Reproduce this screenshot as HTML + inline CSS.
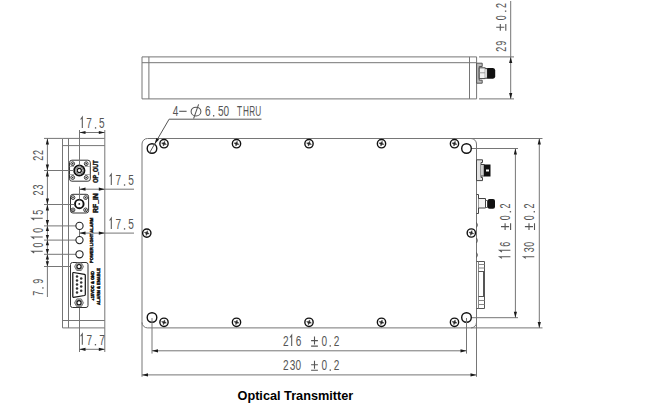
<!DOCTYPE html>
<html><head><meta charset="utf-8"><style>
html,body{margin:0;padding:0;background:#fff;}
body{width:645px;height:419px;overflow:hidden;font-family:"Liberation Sans", sans-serif;}
svg{display:block;}
</style></head><body>
<svg width="645" height="419" viewBox="0 0 645 419">
<rect width="645" height="419" fill="#fff"/>
<path d="M142.0,56.9 H476.6 V98.9 H142.0 Z" stroke="#767676" stroke-width="1" fill="none"/>
<line x1="142.0" y1="62.7" x2="476.6" y2="62.7" stroke="#767676" stroke-width="1"/>
<line x1="148.9" y1="56.9" x2="148.9" y2="98.9" stroke="#767676" stroke-width="1"/>
<line x1="469.5" y1="56.9" x2="469.5" y2="98.9" stroke="#767676" stroke-width="1"/>
<path d="M476.6,63.2 H482.2 V66.5 H479.2 V80.2 H482.2 V83.2 H476.6 Z" stroke="#555" stroke-width="1" fill="#bbb"/>
<path d="M479.2,67.8 H485.3 V78.6 H479.2 Z" stroke="#444" stroke-width="1" fill="#f2f2f2"/>
<line x1="479.6" y1="72.8" x2="485" y2="72.8" stroke="#999" stroke-width="1"/>
<path d="M485.3,68.6 H487.3 V78.2 H485.3" stroke="#333" stroke-width="1" fill="#fff"/>
<path d="M487.2,68.0 H493 Q495.2,68.3 495.2,70.5 V76.5 Q495.2,78.6 493,78.8 H487.2 Z" fill="#111"/>
<line x1="479" y1="56.9" x2="514" y2="56.9" stroke="#767676" stroke-width="1"/>
<line x1="479" y1="98.9" x2="514" y2="98.9" stroke="#767676" stroke-width="1"/>
<line x1="510.7" y1="1" x2="510.7" y2="98.9" stroke="#767676" stroke-width="1"/>
<path d="M510.7,56.9 L512.30,62.90 L509.10,62.90 Z" fill="#1a1a1a"/>
<path d="M510.7,98.9 L509.10,92.90 L512.30,92.90 Z" fill="#1a1a1a"/>
<path d="M147.5,138.5 H542.5" stroke="#767676" stroke-width="1" fill="none"/>
<path d="M147.5,327.9 H542.5" stroke="#767676" stroke-width="1" fill="none"/>
<path d="M142.0,144.0 V376.8" stroke="#767676" stroke-width="1" fill="none"/>
<path d="M476.5,144.0 V376.8" stroke="#767676" stroke-width="1" fill="none"/>
<path d="M142.0,144.0 A5.5,5.5 0 0 1 147.5,138.5" stroke="#767676" stroke-width="1" fill="none"/>
<path d="M142.0,322.4 A5.5,5.5 0 0 0 147.5,327.9" stroke="#767676" stroke-width="1" fill="none"/>
<path d="M471.0,138.5 A5.5,5.5 0 0 1 476.5,144.0" stroke="#767676" stroke-width="1" fill="none"/>
<path d="M476.5,322.4 A5.5,5.5 0 0 1 471.0,327.9" stroke="#767676" stroke-width="1" fill="none"/>
<circle cx="152" cy="148.5" r="4.8" stroke="#111" stroke-width="1.4" fill="none"/>
<circle cx="466.5" cy="148.5" r="4.8" stroke="#111" stroke-width="1.4" fill="none"/>
<circle cx="152" cy="317.5" r="4.8" stroke="#111" stroke-width="1.4" fill="none"/>
<circle cx="466.5" cy="317.5" r="4.8" stroke="#111" stroke-width="1.4" fill="none"/>
<circle cx="164" cy="143.7" r="4.15" stroke="#111" stroke-width="1.4" fill="none"/>
<polygon points="166.41,144.35 164.50,144.57 163.35,146.11 163.13,144.20 161.59,143.05 163.50,142.83 164.65,141.29 164.87,143.20" fill="#222" stroke="#333" stroke-width="0.5"/>
<circle cx="164" cy="322.3" r="4.15" stroke="#111" stroke-width="1.4" fill="none"/>
<polygon points="166.41,322.95 164.50,323.17 163.35,324.71 163.13,322.80 161.59,321.65 163.50,321.43 164.65,319.89 164.87,321.80" fill="#222" stroke="#333" stroke-width="0.5"/>
<circle cx="236.5" cy="143.7" r="4.15" stroke="#111" stroke-width="1.4" fill="none"/>
<polygon points="238.91,144.35 237.00,144.57 235.85,146.11 235.63,144.20 234.09,143.05 236.00,142.83 237.15,141.29 237.37,143.20" fill="#222" stroke="#333" stroke-width="0.5"/>
<circle cx="236.5" cy="322.3" r="4.15" stroke="#111" stroke-width="1.4" fill="none"/>
<polygon points="238.91,322.95 237.00,323.17 235.85,324.71 235.63,322.80 234.09,321.65 236.00,321.43 237.15,319.89 237.37,321.80" fill="#222" stroke="#333" stroke-width="0.5"/>
<circle cx="309" cy="143.7" r="4.15" stroke="#111" stroke-width="1.4" fill="none"/>
<polygon points="311.41,144.35 309.50,144.57 308.35,146.11 308.13,144.20 306.59,143.05 308.50,142.83 309.65,141.29 309.87,143.20" fill="#222" stroke="#333" stroke-width="0.5"/>
<circle cx="309" cy="322.3" r="4.15" stroke="#111" stroke-width="1.4" fill="none"/>
<polygon points="311.41,322.95 309.50,323.17 308.35,324.71 308.13,322.80 306.59,321.65 308.50,321.43 309.65,319.89 309.87,321.80" fill="#222" stroke="#333" stroke-width="0.5"/>
<circle cx="381.5" cy="143.7" r="4.15" stroke="#111" stroke-width="1.4" fill="none"/>
<polygon points="383.91,144.35 382.00,144.57 380.85,146.11 380.63,144.20 379.09,143.05 381.00,142.83 382.15,141.29 382.37,143.20" fill="#222" stroke="#333" stroke-width="0.5"/>
<circle cx="381.5" cy="322.3" r="4.15" stroke="#111" stroke-width="1.4" fill="none"/>
<polygon points="383.91,322.95 382.00,323.17 380.85,324.71 380.63,322.80 379.09,321.65 381.00,321.43 382.15,319.89 382.37,321.80" fill="#222" stroke="#333" stroke-width="0.5"/>
<circle cx="454.5" cy="143.7" r="4.15" stroke="#111" stroke-width="1.4" fill="none"/>
<polygon points="456.91,144.35 455.00,144.57 453.85,146.11 453.63,144.20 452.09,143.05 454.00,142.83 455.15,141.29 455.37,143.20" fill="#222" stroke="#333" stroke-width="0.5"/>
<circle cx="454.5" cy="322.3" r="4.15" stroke="#111" stroke-width="1.4" fill="none"/>
<polygon points="456.91,322.95 455.00,323.17 453.85,324.71 453.63,322.80 452.09,321.65 454.00,321.43 455.15,319.89 455.37,321.80" fill="#222" stroke="#333" stroke-width="0.5"/>
<circle cx="146.8" cy="233.1" r="4.15" stroke="#111" stroke-width="1.4" fill="none"/>
<polygon points="149.21,233.75 147.30,233.97 146.15,235.51 145.93,233.60 144.39,232.45 146.30,232.23 147.45,230.69 147.67,232.60" fill="#222" stroke="#333" stroke-width="0.5"/>
<circle cx="471.3" cy="233.0" r="4.15" stroke="#111" stroke-width="1.4" fill="none"/>
<polygon points="473.71,233.65 471.80,233.87 470.65,235.41 470.43,233.50 468.89,232.35 470.80,232.13 471.95,230.59 472.17,232.50" fill="#222" stroke="#333" stroke-width="0.5"/>
<path d="M149.6,152.7 L169.1,119.2 H261.5" stroke="#555" stroke-width="1" fill="none"/>
<path d="M154.7,144.0 L156.31,138.00 L159.09,139.60 Z" fill="#1a1a1a"/>
<path d="M476.5,159.8 H482.5 V162.5 H481 V177.5 H482.5 V180.6 H476.5 Z" stroke="#444" stroke-width="1" fill="#e4e4e4"/>
<path d="M481,164.5 H484.2 V176 H481" stroke="#444" stroke-width="1" fill="#ccc"/>
<rect x="484" y="164.5" width="6.5" height="12" fill="#111"/>
<rect x="486" y="169.5" width="3" height="2" fill="#fff"/>
<path d="M476.5,194.5 H478.5 V213.5 H476.5" stroke="#444" stroke-width="1" fill="none"/>
<path d="M478.5,198.5 H485.5 V208 H478.5" stroke="#444" stroke-width="1" fill="#f4f4f4"/>
<path d="M485.5,200.5 H487.5 V207.5 H485.5" stroke="#666" stroke-width="1" fill="none"/>
<rect x="487.5" y="199" width="7.5" height="9.8" rx="2" fill="#111"/>
<path d="M476.5,222.5 Q478.3,225 476.5,227.5" stroke="#555" stroke-width="1" fill="none"/>
<path d="M476.5,238.0 Q478.3,240.5 476.5,243.0" stroke="#555" stroke-width="1" fill="none"/>
<path d="M476.5,252.5 Q478.3,255 476.5,257.5" stroke="#555" stroke-width="1" fill="none"/>
<path d="M476.5,261.5 H484.5 V308.5 H476.5" stroke="#555" stroke-width="1" fill="none"/>
<path d="M478.5,261.5 V308.5" stroke="#888" stroke-width="1" fill="none"/>
<line x1="478.5" y1="264.5" x2="484.5" y2="264.5" stroke="#888" stroke-width="1"/>
<line x1="478.5" y1="268" x2="484.5" y2="268" stroke="#888" stroke-width="1"/>
<line x1="478.5" y1="271.5" x2="484.5" y2="271.5" stroke="#555" stroke-width="1"/>
<line x1="478.5" y1="296.5" x2="484.5" y2="296.5" stroke="#555" stroke-width="1"/>
<line x1="478.5" y1="300.5" x2="484.5" y2="300.5" stroke="#888" stroke-width="1"/>
<line x1="478.5" y1="304.5" x2="484.5" y2="304.5" stroke="#888" stroke-width="1"/>
<path d="M483.5,271.5 V296.5" stroke="#555" stroke-width="1" fill="none"/>
<line x1="472" y1="148.5" x2="518" y2="148.5" stroke="#767676" stroke-width="1"/>
<line x1="472" y1="317.7" x2="518" y2="317.7" stroke="#767676" stroke-width="1"/>
<line x1="515.4" y1="148.5" x2="515.4" y2="317.7" stroke="#767676" stroke-width="1"/>
<path d="M515.4,148.5 L517.00,154.50 L513.80,154.50 Z" fill="#1a1a1a"/>
<path d="M515.4,317.7 L513.80,311.70 L517.00,311.70 Z" fill="#1a1a1a"/>
<line x1="539.3" y1="138.5" x2="539.3" y2="327.9" stroke="#767676" stroke-width="1"/>
<path d="M539.3,138.5 L540.90,144.50 L537.70,144.50 Z" fill="#1a1a1a"/>
<path d="M539.3,327.9 L537.70,321.90 L540.90,321.90 Z" fill="#1a1a1a"/>
<line x1="152" y1="318" x2="152" y2="353.6" stroke="#767676" stroke-width="1"/>
<line x1="466.5" y1="318" x2="466.5" y2="353.6" stroke="#767676" stroke-width="1"/>
<line x1="152" y1="350.8" x2="466.5" y2="350.8" stroke="#767676" stroke-width="1"/>
<path d="M152,350.8 L158.00,349.20 L158.00,352.40 Z" fill="#1a1a1a"/>
<path d="M466.5,350.8 L460.50,352.40 L460.50,349.20 Z" fill="#1a1a1a"/>
<line x1="142.0" y1="374.9" x2="476.5" y2="374.9" stroke="#767676" stroke-width="1"/>
<path d="M142.0,374.9 L148.00,373.30 L148.00,376.50 Z" fill="#1a1a1a"/>
<path d="M476.5,374.9 L470.50,376.50 L470.50,373.30 Z" fill="#1a1a1a"/>
<path d="M62.5,138.4 H104.8 V327.9 H62.5 Z" stroke="#767676" stroke-width="1" fill="none"/>
<line x1="68.5" y1="138.4" x2="68.5" y2="327.9" stroke="#767676" stroke-width="1"/>
<line x1="62.5" y1="145.6" x2="104.8" y2="145.6" stroke="#767676" stroke-width="1"/>
<line x1="62.5" y1="320.5" x2="104.8" y2="320.5" stroke="#767676" stroke-width="1"/>
<line x1="44" y1="138.4" x2="62.5" y2="138.4" stroke="#767676" stroke-width="1"/>
<line x1="47.4" y1="138.4" x2="47.4" y2="297" stroke="#767676" stroke-width="1"/>
<line x1="44" y1="170.5" x2="74" y2="170.5" stroke="#767676" stroke-width="1"/>
<line x1="44" y1="204.5" x2="74.5" y2="204.5" stroke="#767676" stroke-width="1"/>
<line x1="44" y1="225.9" x2="76" y2="225.9" stroke="#767676" stroke-width="1"/>
<line x1="44" y1="240.1" x2="76" y2="240.1" stroke="#767676" stroke-width="1"/>
<line x1="44" y1="254.3" x2="76" y2="254.3" stroke="#767676" stroke-width="1"/>
<line x1="44" y1="266.5" x2="74.5" y2="266.5" stroke="#767676" stroke-width="1"/>
<path d="M47.4,138.4 L49.00,144.40 L45.80,144.40 Z" fill="#1a1a1a"/>
<path d="M47.4,170.5 L45.80,164.50 L49.00,164.50 Z" fill="#1a1a1a"/>
<path d="M47.4,170.5 L49.00,176.50 L45.80,176.50 Z" fill="#1a1a1a"/>
<path d="M47.4,204.5 L45.80,198.50 L49.00,198.50 Z" fill="#1a1a1a"/>
<path d="M47.4,204.5 L49.00,210.50 L45.80,210.50 Z" fill="#1a1a1a"/>
<path d="M47.4,225.9 L45.80,219.90 L49.00,219.90 Z" fill="#1a1a1a"/>
<path d="M47.4,225.9 L49.00,231.10 L45.80,231.10 Z" fill="#1a1a1a"/>
<path d="M47.4,240.1 L45.80,234.90 L49.00,234.90 Z" fill="#1a1a1a"/>
<path d="M47.4,240.1 L49.00,245.30 L45.80,245.30 Z" fill="#1a1a1a"/>
<path d="M47.4,254.3 L45.80,249.10 L49.00,249.10 Z" fill="#1a1a1a"/>
<path d="M47.4,254.3 L49.00,259.50 L45.80,259.50 Z" fill="#1a1a1a"/>
<path d="M47.4,266.5 L45.80,261.30 L49.00,261.30 Z" fill="#1a1a1a"/>
<rect x="69.5" y="160.2" width="20.799999999999997" height="21.0" rx="2.4" stroke="#333" stroke-width="1" fill="#fff"/>
<circle cx="72.7" cy="163.7" r="1.9" stroke="#222" stroke-width="0.9" fill="none"/>
<circle cx="72.7" cy="163.7" r="0.85" fill="#333"/>
<circle cx="72.7" cy="177.5" r="1.9" stroke="#222" stroke-width="0.9" fill="none"/>
<circle cx="72.7" cy="177.5" r="0.85" fill="#333"/>
<circle cx="86.2" cy="163.7" r="1.9" stroke="#222" stroke-width="0.9" fill="none"/>
<circle cx="86.2" cy="163.7" r="0.85" fill="#333"/>
<circle cx="86.2" cy="177.5" r="1.9" stroke="#222" stroke-width="0.9" fill="none"/>
<circle cx="86.2" cy="177.5" r="0.85" fill="#333"/>
<line x1="69.5" y1="166.5" x2="74" y2="166.5" stroke="#999" stroke-width="0.8"/>
<line x1="84.5" y1="166.5" x2="90.3" y2="166.5" stroke="#999" stroke-width="0.8"/>
<line x1="69.5" y1="174.5" x2="74" y2="174.5" stroke="#999" stroke-width="0.8"/>
<line x1="84.5" y1="174.5" x2="90.3" y2="174.5" stroke="#999" stroke-width="0.8"/>
<circle cx="79.3" cy="170.5" r="5.2" stroke="#111" stroke-width="1.8" fill="none"/>
<circle cx="79.3" cy="170.5" r="3.7" stroke="#777" stroke-width="1.0" fill="none"/>
<circle cx="79.3" cy="170.5" r="2.1" stroke="#111" stroke-width="1.2" fill="none"/>
<rect x="70.5" y="194.3" width="18.099999999999994" height="18.69999999999999" rx="2.4" stroke="#333" stroke-width="1" fill="#fff"/>
<circle cx="73.0" cy="197.6" r="1.9" stroke="#222" stroke-width="0.9" fill="none"/>
<circle cx="73.0" cy="197.6" r="0.85" fill="#333"/>
<circle cx="73.0" cy="209.9" r="1.9" stroke="#222" stroke-width="0.9" fill="none"/>
<circle cx="73.0" cy="209.9" r="0.85" fill="#333"/>
<circle cx="85.6" cy="197.6" r="1.9" stroke="#222" stroke-width="0.9" fill="none"/>
<circle cx="85.6" cy="197.6" r="0.85" fill="#333"/>
<circle cx="85.6" cy="209.9" r="1.9" stroke="#222" stroke-width="0.9" fill="none"/>
<circle cx="85.6" cy="209.9" r="0.85" fill="#333"/>
<circle cx="79.3" cy="203.9" r="4.3" stroke="#111" stroke-width="1.9" fill="none"/>
<circle cx="79.3" cy="203.9" r="0.9" fill="#222"/>
<line x1="69.5" y1="170.5" x2="74" y2="170.5" stroke="#767676" stroke-width="1"/>
<line x1="70.5" y1="204.5" x2="74.5" y2="204.5" stroke="#767676" stroke-width="1"/>
<line x1="79.5" y1="130" x2="79.5" y2="165.5" stroke="#767676" stroke-width="1"/>
<line x1="79.5" y1="186.5" x2="79.5" y2="199.5" stroke="#767676" stroke-width="1"/>
<line x1="79.5" y1="229" x2="79.5" y2="237" stroke="#767676" stroke-width="1"/>
<line x1="79.5" y1="305" x2="79.5" y2="352" stroke="#767676" stroke-width="1"/>
<circle cx="79.5" cy="225.9" r="3.6" stroke="#222" stroke-width="1.1" fill="none"/>
<circle cx="79.5" cy="240.1" r="3.6" stroke="#222" stroke-width="1.1" fill="none"/>
<circle cx="79.5" cy="254.3" r="3.6" stroke="#222" stroke-width="1.1" fill="none"/>
<rect x="70.5" y="262.5" width="17.5" height="45" rx="2" stroke="#333" stroke-width="1" fill="#fff"/>
<polygon points="83.50,266.60 81.25,270.50 76.75,270.50 74.50,266.60 76.75,262.70 81.25,262.70" stroke="#555" stroke-width="0.8" fill="#fff"/>
<circle cx="79" cy="266.6" r="3.3" stroke="#666" stroke-width="0.7" fill="none"/>
<circle cx="79" cy="266.6" r="2.1" stroke="#111" stroke-width="1.2" fill="none"/>
<polygon points="83.50,302.80 81.25,306.70 76.75,306.70 74.50,302.80 76.75,298.90 81.25,298.90" stroke="#555" stroke-width="0.8" fill="#fff"/>
<circle cx="79" cy="302.8" r="3.3" stroke="#666" stroke-width="0.7" fill="none"/>
<circle cx="79" cy="302.8" r="2.1" stroke="#111" stroke-width="1.2" fill="none"/>
<path d="M73.5,272.5 L84.5,274.3 Q85.3,274.5 85.3,275.3 V294.5 Q85.3,295.3 84.5,295.5 L73.5,297.3 Q72.8,297.4 72.8,296.6 V273.2 Q72.8,272.4 73.5,272.5 Z" stroke="#111" stroke-width="1.2" fill="#fff"/>
<circle cx="77" cy="276.6" r="1.25" fill="#333"/>
<circle cx="77" cy="280.6" r="1.25" fill="#333"/>
<circle cx="77" cy="284.6" r="1.25" fill="#333"/>
<circle cx="77" cy="288.6" r="1.25" fill="#333"/>
<circle cx="77" cy="292.6" r="1.25" fill="#333"/>
<circle cx="81.2" cy="278.5" r="1.25" fill="#333"/>
<circle cx="81.2" cy="282.5" r="1.25" fill="#333"/>
<circle cx="81.2" cy="286.6" r="1.25" fill="#333"/>
<circle cx="81.2" cy="290.7" r="1.25" fill="#333"/>
<line x1="79.5" y1="132.5" x2="104.8" y2="132.5" stroke="#767676" stroke-width="1"/>
<line x1="104.8" y1="130" x2="104.8" y2="138.4" stroke="#767676" stroke-width="1"/>
<path d="M79.5,132.5 L85.50,130.90 L85.50,134.10 Z" fill="#1a1a1a"/>
<path d="M104.8,132.5 L98.80,134.10 L98.80,130.90 Z" fill="#1a1a1a"/>
<line x1="79.5" y1="189.2" x2="134" y2="189.2" stroke="#767676" stroke-width="1"/>
<path d="M79.5,189.2 L85.50,187.60 L85.50,190.80 Z" fill="#1a1a1a"/>
<path d="M104.8,189.2 L98.80,190.80 L98.80,187.60 Z" fill="#1a1a1a"/>
<line x1="79.5" y1="233.1" x2="134" y2="233.1" stroke="#767676" stroke-width="1"/>
<path d="M79.5,233.1 L85.50,231.50 L85.50,234.70 Z" fill="#1a1a1a"/>
<path d="M104.8,233.1 L98.80,234.70 L98.80,231.50 Z" fill="#1a1a1a"/>
<line x1="104.8" y1="327.9" x2="104.8" y2="352" stroke="#767676" stroke-width="1"/>
<line x1="79.5" y1="349.3" x2="104.8" y2="349.3" stroke="#767676" stroke-width="1"/>
<path d="M79.5,349.3 L85.50,347.70 L85.50,350.90 Z" fill="#1a1a1a"/>
<path d="M104.8,349.3 L98.80,350.90 L98.80,347.70 Z" fill="#1a1a1a"/>
<text transform="scale(0.65,1)" x="435.37" y="345.90" font-family='"Liberation Sans", sans-serif' font-size="15.5" font-weight="normal" fill="#555">2</text>
<path d="M291.70,345.90 V335.05 L290.00,337.45" stroke="#555" stroke-width="1.05" fill="none"/>
<text transform="scale(0.65,1)" x="455.06" y="345.90" font-family='"Liberation Sans", sans-serif' font-size="15.5" font-weight="normal" fill="#555">6</text>
<path d="M311.10,340.60 H317.90 M314.50,336.50 V344.60 M311.10,346.10 H317.90" stroke="#555" stroke-width="1.1" fill="none"/>
<text transform="scale(0.65,1)" x="494.78" y="345.90" font-family='"Liberation Sans", sans-serif' font-size="15.5" font-weight="normal" fill="#555">0</text>
<rect x="329.60" y="345.20" width="1.3" height="1.4" fill="#555"/>
<text transform="scale(0.65,1)" x="513.37" y="345.90" font-family='"Liberation Sans", sans-serif' font-size="15.5" font-weight="normal" fill="#555">2</text>
<text transform="scale(0.65,1)" x="435.37" y="370.10" font-family='"Liberation Sans", sans-serif' font-size="15.5" font-weight="normal" fill="#555">2</text>
<text transform="scale(0.65,1)" x="445.87" y="370.10" font-family='"Liberation Sans", sans-serif' font-size="15.5" font-weight="normal" fill="#555">3</text>
<text transform="scale(0.65,1)" x="454.47" y="370.10" font-family='"Liberation Sans", sans-serif' font-size="15.5" font-weight="normal" fill="#555">0</text>
<path d="M311.10,364.80 H317.90 M314.50,360.70 V368.80 M311.10,370.30 H317.90" stroke="#555" stroke-width="1.1" fill="none"/>
<text transform="scale(0.65,1)" x="494.78" y="370.10" font-family='"Liberation Sans", sans-serif' font-size="15.5" font-weight="normal" fill="#555">0</text>
<rect x="329.60" y="369.40" width="1.3" height="1.4" fill="#555"/>
<text transform="scale(0.65,1)" x="513.37" y="370.10" font-family='"Liberation Sans", sans-serif' font-size="15.5" font-weight="normal" fill="#555">2</text>
<path d="M82.30,127.90 V117.05 L80.60,119.45" stroke="#555" stroke-width="1.05" fill="none"/>
<text transform="scale(0.65,1)" x="132.74" y="127.90" font-family='"Liberation Sans", sans-serif' font-size="15.5" font-weight="normal" fill="#555">7</text>
<rect x="94.90" y="127.20" width="1.3" height="1.4" fill="#555"/>
<text transform="scale(0.65,1)" x="152.46" y="127.90" font-family='"Liberation Sans", sans-serif' font-size="15.5" font-weight="normal" fill="#555">5</text>
<path d="M111.30,185.00 V174.15 L109.60,176.55" stroke="#555" stroke-width="1.05" fill="none"/>
<text transform="scale(0.65,1)" x="177.67" y="185.00" font-family='"Liberation Sans", sans-serif' font-size="15.5" font-weight="normal" fill="#555">7</text>
<rect x="123.90" y="184.30" width="1.3" height="1.4" fill="#555"/>
<text transform="scale(0.65,1)" x="197.23" y="185.00" font-family='"Liberation Sans", sans-serif' font-size="15.5" font-weight="normal" fill="#555">5</text>
<path d="M111.30,228.90 V218.05 L109.60,220.45" stroke="#555" stroke-width="1.05" fill="none"/>
<text transform="scale(0.65,1)" x="177.67" y="228.90" font-family='"Liberation Sans", sans-serif' font-size="15.5" font-weight="normal" fill="#555">7</text>
<rect x="123.90" y="228.20" width="1.3" height="1.4" fill="#555"/>
<text transform="scale(0.65,1)" x="197.23" y="228.90" font-family='"Liberation Sans", sans-serif' font-size="15.5" font-weight="normal" fill="#555">5</text>
<path d="M82.30,344.70 V333.85 L80.60,336.25" stroke="#555" stroke-width="1.05" fill="none"/>
<text transform="scale(0.65,1)" x="133.05" y="344.70" font-family='"Liberation Sans", sans-serif' font-size="15.5" font-weight="normal" fill="#555">7</text>
<rect x="94.80" y="344.00" width="1.3" height="1.4" fill="#555"/>
<text transform="scale(0.65,1)" x="152.59" y="344.70" font-family='"Liberation Sans", sans-serif' font-size="15.5" font-weight="normal" fill="#555">7</text>
<text transform="scale(0.65,1)" x="265.80" y="115.80" font-family='"Liberation Sans", sans-serif' font-size="15.5" font-weight="normal" fill="#555">4</text>
<line x1="179.2" y1="111.3" x2="186.6" y2="111.3" stroke="#555" stroke-width="1.1"/>
<ellipse cx="196.0" cy="111.6" rx="4.9" ry="4.4" stroke="#555" stroke-width="1.05" fill="none"/>
<line x1="198.6" y1="104.3" x2="193.6" y2="118.6" stroke="#555" stroke-width="1.05"/>
<text transform="scale(0.65,1)" x="315.52" y="115.80" font-family='"Liberation Sans", sans-serif' font-size="15.5" font-weight="normal" fill="#555">6</text>
<rect x="213.00" y="115.10" width="1.3" height="1.4" fill="#555"/>
<text transform="scale(0.65,1)" x="335.38" y="115.80" font-family='"Liberation Sans", sans-serif' font-size="15.5" font-weight="normal" fill="#555">5</text>
<text transform="scale(0.65,1)" x="344.01" y="115.80" font-family='"Liberation Sans", sans-serif' font-size="15.5" font-weight="normal" fill="#555">0</text>
<text transform="scale(0.53,1)" x="447.20" y="115.80" font-family='"Liberation Sans", sans-serif' font-size="15.5" font-weight="normal" fill="#555">T</text>
<text transform="scale(0.53,1)" x="458.73" y="115.80" font-family='"Liberation Sans", sans-serif' font-size="15.5" font-weight="normal" fill="#555">H</text>
<text transform="scale(0.53,1)" x="470.24" y="115.80" font-family='"Liberation Sans", sans-serif' font-size="15.5" font-weight="normal" fill="#555">R</text>
<text transform="scale(0.53,1)" x="481.82" y="115.80" font-family='"Liberation Sans", sans-serif' font-size="15.5" font-weight="normal" fill="#555">U</text>
<g transform="translate(505.6,51.2) rotate(-90)">
<text transform="scale(0.575,1)" x="-0.78" y="0.00" font-family='"Liberation Sans", sans-serif' font-size="15.5" font-weight="normal" fill="#555">2</text>
<text transform="scale(0.575,1)" x="9.36" y="0.00" font-family='"Liberation Sans", sans-serif' font-size="15.5" font-weight="normal" fill="#555">9</text>
<path d="M20.50,-5.30 H27.30 M23.90,-9.40 V-1.30 M20.50,0.20 H27.30" stroke="#555" stroke-width="1.1" fill="none"/>
<text transform="scale(0.575,1)" x="53.83" y="0.00" font-family='"Liberation Sans", sans-serif' font-size="15.5" font-weight="normal" fill="#555">0</text>
<rect x="39.40" y="-0.70" width="1.3" height="1.4" fill="#555"/>
<text transform="scale(0.575,1)" x="75.22" y="0.00" font-family='"Liberation Sans", sans-serif' font-size="15.5" font-weight="normal" fill="#555">2</text>
</g>
<g transform="translate(510.4,258.6) rotate(-90)">
<path d="M1.90,0.00 V-10.85 L0.20,-8.45" stroke="#555" stroke-width="1.05" fill="none"/>
<path d="M8.30,0.00 V-10.85 L6.60,-8.45" stroke="#555" stroke-width="1.05" fill="none"/>
<text transform="scale(0.575,1)" x="20.60" y="0.00" font-family='"Liberation Sans", sans-serif' font-size="15.5" font-weight="normal" fill="#555">6</text>
<path d="M28.60,-5.30 H35.40 M32.00,-9.40 V-1.30 M28.60,0.20 H35.40" stroke="#555" stroke-width="1.1" fill="none"/>
<text transform="scale(0.575,1)" x="66.70" y="0.00" font-family='"Liberation Sans", sans-serif' font-size="15.5" font-weight="normal" fill="#555">0</text>
<rect x="46.20" y="-0.70" width="1.3" height="1.4" fill="#555"/>
<text transform="scale(0.575,1)" x="87.05" y="0.00" font-family='"Liberation Sans", sans-serif' font-size="15.5" font-weight="normal" fill="#555">2</text>
</g>
<g transform="translate(534.3,258.6) rotate(-90)">
<path d="M1.90,0.00 V-10.85 L0.20,-8.45" stroke="#555" stroke-width="1.05" fill="none"/>
<text transform="scale(0.575,1)" x="11.06" y="0.00" font-family='"Liberation Sans", sans-serif' font-size="15.5" font-weight="normal" fill="#555">3</text>
<text transform="scale(0.575,1)" x="20.79" y="0.00" font-family='"Liberation Sans", sans-serif' font-size="15.5" font-weight="normal" fill="#555">0</text>
<path d="M28.60,-5.30 H35.40 M32.00,-9.40 V-1.30 M28.60,0.20 H35.40" stroke="#555" stroke-width="1.1" fill="none"/>
<text transform="scale(0.575,1)" x="66.70" y="0.00" font-family='"Liberation Sans", sans-serif' font-size="15.5" font-weight="normal" fill="#555">0</text>
<rect x="46.20" y="-0.70" width="1.3" height="1.4" fill="#555"/>
<text transform="scale(0.575,1)" x="87.05" y="0.00" font-family='"Liberation Sans", sans-serif' font-size="15.5" font-weight="normal" fill="#555">2</text>
</g>
<g transform="translate(42.7,160.4) rotate(-90)">
<text transform="scale(0.575,1)" x="-0.78" y="0.00" font-family='"Liberation Sans", sans-serif' font-size="15.5" font-weight="normal" fill="#555">2</text>
<text transform="scale(0.575,1)" x="9.48" y="0.00" font-family='"Liberation Sans", sans-serif' font-size="15.5" font-weight="normal" fill="#555">2</text>
</g>
<g transform="translate(42.7,195.0) rotate(-90)">
<text transform="scale(0.575,1)" x="-0.78" y="0.00" font-family='"Liberation Sans", sans-serif' font-size="15.5" font-weight="normal" fill="#555">2</text>
<text transform="scale(0.575,1)" x="9.67" y="0.00" font-family='"Liberation Sans", sans-serif' font-size="15.5" font-weight="normal" fill="#555">3</text>
</g>
<g transform="translate(42.7,220.2) rotate(-90)">
<path d="M1.90,0.00 V-10.85 L0.20,-8.45" stroke="#555" stroke-width="1.05" fill="none"/>
<text transform="scale(0.575,1)" x="9.64" y="0.00" font-family='"Liberation Sans", sans-serif' font-size="15.5" font-weight="normal" fill="#555">5</text>
</g>
<g transform="translate(42.7,238.9) rotate(-90)">
<path d="M1.90,0.00 V-10.85 L0.20,-8.45" stroke="#555" stroke-width="1.05" fill="none"/>
<text transform="scale(0.575,1)" x="10.87" y="0.00" font-family='"Liberation Sans", sans-serif' font-size="15.5" font-weight="normal" fill="#555">0</text>
</g>
<g transform="translate(42.7,253.2) rotate(-90)">
<path d="M1.90,0.00 V-10.85 L0.20,-8.45" stroke="#555" stroke-width="1.05" fill="none"/>
<text transform="scale(0.575,1)" x="9.83" y="0.00" font-family='"Liberation Sans", sans-serif' font-size="15.5" font-weight="normal" fill="#555">0</text>
</g>
<g transform="translate(42.9,295.2) rotate(-90)">
<text transform="scale(0.575,1)" x="-0.79" y="0.00" font-family='"Liberation Sans", sans-serif' font-size="15.5" font-weight="normal" fill="#555">7</text>
<rect x="6.60" y="-0.70" width="1.3" height="1.4" fill="#555"/>
<text transform="scale(0.575,1)" x="19.80" y="0.00" font-family='"Liberation Sans", sans-serif' font-size="15.5" font-weight="normal" fill="#555">9</text>
</g>
<g transform="translate(98.0,182.8) rotate(-90)">
<text transform="scale(0.829,1)" x="0" y="0" font-family='"Liberation Sans", sans-serif' font-size="6.6" font-weight="bold" fill="#111" stroke="#111" stroke-width="0.45">OP_OUT</text>
</g>
<g transform="translate(98.0,212.9) rotate(-90)">
<text transform="scale(1.028,1)" x="0" y="0" font-family='"Liberation Sans", sans-serif' font-size="6.6" font-weight="bold" fill="#111" stroke="#111" stroke-width="0.45">RF_IN</text>
</g>
<g transform="translate(93.1,263.0) rotate(-90)">
<text transform="scale(0.943,1)" x="0" y="0" font-family='"Liberation Sans", sans-serif' font-size="4.4" font-weight="bold" fill="#111" stroke="#111" stroke-width="0.45">POWER LIGHT ALARM</text>
</g>
<g transform="translate(94.2,300.7) rotate(-90)">
<text transform="scale(0.948,1)" x="0" y="0" font-family='"Liberation Sans", sans-serif' font-size="4.3" font-weight="bold" fill="#111" stroke="#111" stroke-width="0.45">+15VDC &amp; GND</text>
</g>
<g transform="translate(99.6,304.9) rotate(-90)">
<text transform="scale(0.954,1)" x="0" y="0" font-family='"Liberation Sans", sans-serif' font-size="4.3" font-weight="bold" fill="#111" stroke="#111" stroke-width="0.45">ALARM &amp; ENABLE</text>
</g>
<text transform="scale(0.9562,1)" x="248.39" y="400.4" font-family='"Liberation Sans", sans-serif' font-size="13.3" font-weight="bold" fill="#000">Optical Transmitter</text>
</svg>
</body></html>
